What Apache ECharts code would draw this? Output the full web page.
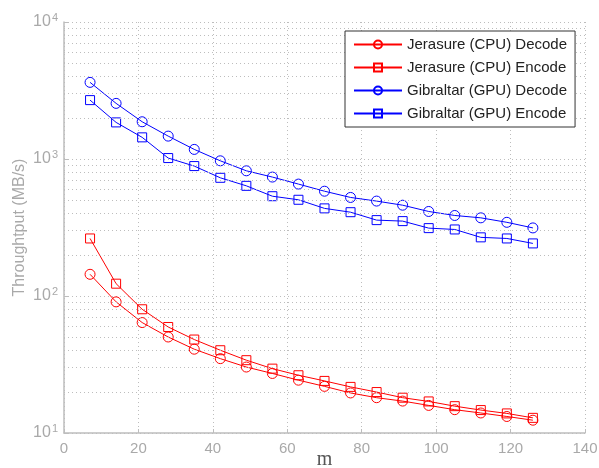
<!DOCTYPE html>
<html>
<head>
<meta charset="utf-8">
<script src="https://cdn.jsdelivr.net/npm/echarts@6/dist/echarts.min.js"></script>
<style>
  html, body { margin: 0; padding: 0; background: #fff; }
  #chart { width: 599px; height: 468px; }
</style>
</head>
<body>
<div id="chart"></div>
<script>
// m values (x axis)
var mValues = [7, 14, 21, 28, 35, 42, 49, 56, 63, 70, 77, 84, 91, 98, 105, 112, 119, 126];

// throughput in MB/s
var cpuDecode = [144, 90.6, 64, 50.2, 40.9, 34.9, 30.3, 27.2, 24.3, 21.9, 19.6, 18.1, 17.1, 15.9, 14.8, 14.0, 13.2, 12.4];
var cpuEncode = [263, 123, 80, 59.4, 48.1, 40.2, 34.0, 29.5, 26.4, 24.0, 21.7, 19.9, 18.1, 17.0, 15.7, 14.7, 13.9, 12.9];
var gpuDecode = [3625, 2547, 1870, 1469, 1175, 970, 820, 738, 656, 582, 524, 493, 460, 414, 387, 372, 345, 314];
var gpuEncode = [2690, 1850, 1439, 1016, 888, 729, 637, 535, 504, 436, 409, 358, 352, 313, 306, 268, 263, 242];

var seriesNames = ['Jerasure (CPU) Decode', 'Jerasure (CPU) Encode', 'Gibraltar (GPU) Decode', 'Gibraltar (GPU) Encode'];

// minor grid lines of the log axis (2..9 in every decade)
var minorGrid = [20, 30, 40, 50, 60, 70, 80, 90, 200, 300, 400, 500, 600, 700, 800, 900,
                 2000, 3000, 4000, 5000, 6000, 7000, 8000, 9000];

var gridColor = '#bdbdbd';
var labelColor = '#a9a9a9';

function pairs(ys) {
    return ys.map(function (y, i) { return [mValues[i], y]; });
}

function makeSeries(name, data, color, symbol) {
    return {
        name: name,
        type: 'line',
        data: pairs(data),
        symbol: symbol,
        symbolSize: symbol === 'rect' ? 9 : 10,
        showSymbol: true,
        lineStyle: { color: color, width: 1 },
        itemStyle: { color: 'rgba(255,255,255,0)', borderColor: color, borderWidth: 1 },
        emphasis: { disabled: true }
    };
}

var chart = echarts.init(document.getElementById('chart'));

var series = [
    makeSeries(seriesNames[0], cpuDecode, '#ff0000', 'circle'),
    makeSeries(seriesNames[1], cpuEncode, '#ff0000', 'rect'),
    makeSeries(seriesNames[2], gpuDecode, '#0000ff', 'circle'),
    makeSeries(seriesNames[3], gpuEncode, '#0000ff', 'rect')
];

// dotted minor grid hung on the first series
series[0].markLine = {
    silent: true,
    symbol: 'none',
    label: { show: false },
    lineStyle: { color: gridColor, type: [1, 3], width: 1 },
    data: minorGrid.map(function (v) { return { yAxis: v }; })
};

var option = {
    animation: false,
    textStyle: { fontFamily: 'Liberation Sans, Arial, sans-serif' },
    grid: { left: 64, right: 14, top: 22, bottom: 35, containLabel: false, outerBoundsMode: 'none' },
    legend: {
        z: 20,
        orient: 'vertical',
        left: 345,
        top: 31,
        padding: [5, 8, 5, 8],
        itemGap: 6,
        itemWidth: 48,
        itemHeight: 10,
        borderColor: '#333',
        borderWidth: 1,
        backgroundColor: '#fff',
        textStyle: { color: '#222', fontSize: 15, lineHeight: 17 },
        data: seriesNames
    },
    xAxis: {
        type: 'value',
        min: 0,
        max: 140,
        interval: 20,
        name: 'm',
        nameLocation: 'middle',
        nameGap: 17,
        nameMoveOverlap: false,
        nameTextStyle: { color: '#555', fontSize: 20, fontFamily: 'Liberation Serif, serif' },
        axisLine: { lineStyle: { color: gridColor, width: 1.5 } },
        axisTick: { inside: true, length: 4, lineStyle: { color: gridColor } },
        axisLabel: { color: labelColor, fontSize: 15, margin: 8 },
        splitLine: { show: true, lineStyle: { color: gridColor, type: [1, 3] } }
    },
    yAxis: {
        type: 'log',
        logBase: 10,
        min: 10,
        max: 10000,
        name: 'Throughtput (MB/s)',
        nameLocation: 'middle',
        nameGap: 36,
        nameMoveOverlap: false,
        nameRotate: 90,
        nameTextStyle: { color: labelColor, fontSize: 16 },
        axisLine: { show: true, lineStyle: { color: gridColor, width: 1.5 } },
        axisTick: { inside: true, length: 4, lineStyle: { color: gridColor } },
        axisLabel: {
            margin: 6,
            formatter: function (v) {
                var e = Math.round(Math.log(v) / Math.LN10);
                return '{b|10}{s|' + e + '}';
            },
            rich: {
                b: { color: labelColor, fontSize: 16 },
                s: { color: labelColor, fontSize: 11, verticalAlign: 'top', padding: [0, 0, 9, 1] }
            }
        },
        splitLine: { show: true, lineStyle: { color: gridColor, type: [1, 3] } }
    },
    series: series
};

option && chart.setOption(option);
</script>
</body>
</html>
